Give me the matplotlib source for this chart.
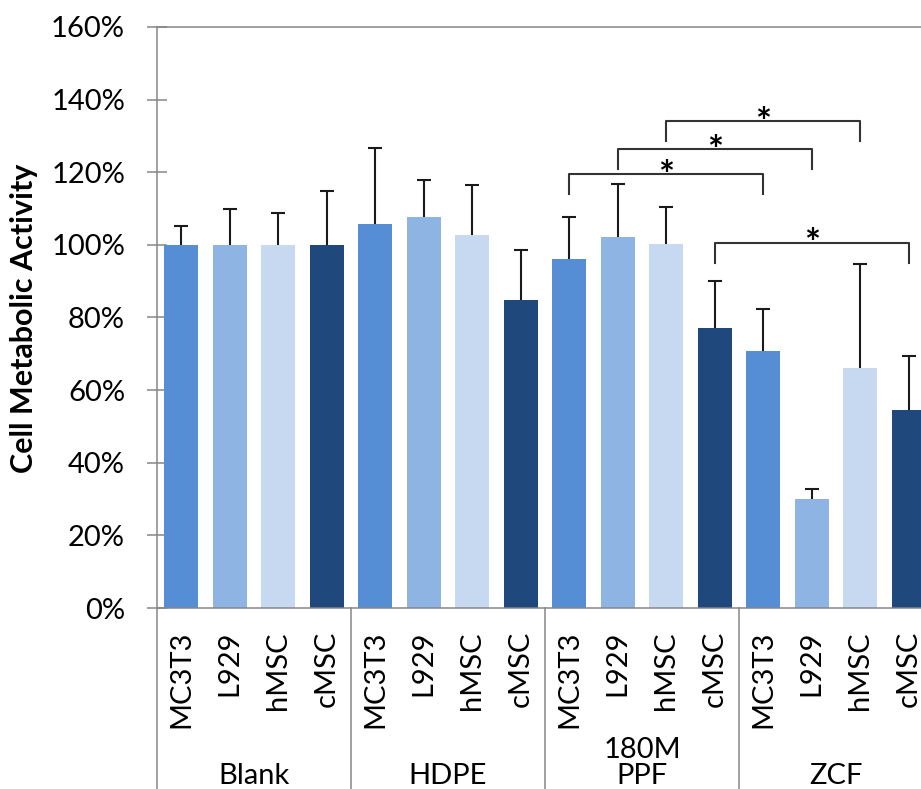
import numpy as np
import matplotlib.pyplot as plt
from matplotlib.transforms import blended_transform_factory

plt.rcParams['font.family'] = ['Lato', 'DejaVu Sans']

# groups (materials) and cell lines
groups = ["Blank", "HDPE", "180M\nPPF", "ZCF"]
cells = ["MC3T3", "L929", "hMSC", "cMSC"]
colors = ["#558ED5", "#8EB4E3", "#C6D9F1", "#1F497D"]

# mean metabolic activity (%) per cell line, one value per group
mc3t3_mean = [100, 105.8, 96.0, 70.8]
l929_mean = [100, 107.6, 102.3, 29.9]
hmsc_mean = [100, 102.7, 100.2, 66.1]
cmsc_mean = [100, 84.7, 77.0, 54.4]

# upper error (%) per cell line
mc3t3_err = [5.3, 21.0, 11.7, 11.6]
l929_err = [9.8, 10.2, 14.5, 2.9]
hmsc_err = [8.9, 13.8, 10.2, 28.6]
cmsc_err = [14.8, 13.9, 13.1, 15.1]

# significance brackets: each cell line compared between 180M PPF and ZCF
sig_cells = ["MC3T3", "L929", "hMSC", "cMSC"]
sig_heights = [119.4, 126.3, 134.1, 100.6]
sig_from, sig_to = 2, 3

means = [mc3t3_mean, l929_mean, hmsc_mean, cmsc_mean]
errs = [mc3t3_err, l929_err, hmsc_err, cmsc_err]

n_cells = len(cells)
gray = "#868686"

fig = plt.figure(figsize=(9.21, 7.89), dpi=100)
ax = fig.add_axes([0.1705, 0.2294, 0.8426, 0.7364])

# bars + upper error bars (only the top cap is shown)
for c in range(n_cells):
    x = np.arange(len(groups)) * n_cells + c
    ax.bar(x, means[c], width=0.7, color=colors[c], zorder=2)
    low = [0] * len(groups)
    eb = ax.errorbar(x, means[c], yerr=[low, errs[c]], fmt='none', ecolor='#1a1a1a',
                     elinewidth=1.5, capsize=5, capthick=1.5, zorder=3)
    eb[1][0].set_visible(False)

# significance brackets
for name, h in zip(sig_cells, sig_heights):
    c = cells.index(name)
    x1 = sig_from * n_cells + c
    x2 = sig_to * n_cells + c
    leg = 5.5
    ax.plot([x1, x1, x2, x2], [h - leg, h, h, h - leg], color='#333333', lw=1.5, zorder=4)
    ax.text((x1 + x2) / 2, h - 3.8, "*", ha='center', va='baseline', fontsize=27,
            fontweight='bold', color='black')

ax.set_xlim(-0.5, len(groups) * n_cells - 0.5)
ax.set_ylim(0, 160)
ax.set_yticks(np.arange(0, 161, 20))
ax.set_yticklabels([f"{v}%" for v in range(0, 161, 20)])

xticks = np.arange(len(groups) * n_cells)
ax.set_xticks(xticks)
ax.set_xticklabels(cells * len(groups), rotation=90)

ax.tick_params(axis='y', direction='inout', length=14.4, width=1.1, color=gray,
               labelsize=21, pad=15.8)
ax.tick_params(axis='x', length=0, labelsize=21, pad=16.5)

for side in ['left', 'bottom', 'top']:
    ax.spines[side].set_color(gray)
    ax.spines[side].set_linewidth(1.1)
ax.spines['right'].set_visible(False)

# group separators and group labels below the cell names
trans = blended_transform_factory(ax.transData, ax.transAxes)
for g in range(len(groups) + 1):
    xs = g * n_cells - 0.5
    ax.plot([xs, xs], [0, -0.35], color=gray, lw=1.1, transform=trans, clip_on=False)
for g, name in enumerate(groups):
    ax.text(g * n_cells + (n_cells - 1) / 2, -0.312, name, transform=trans,
            ha='center', va='bottom', fontsize=21, linespacing=1.0)

fig.text(24 / 921, 1 - 318 / 789, "Cell Metabolic Activity", rotation=90,
         ha='center', va='center', fontsize=22, fontweight='bold')

fig.savefig("out.png", dpi=100)
